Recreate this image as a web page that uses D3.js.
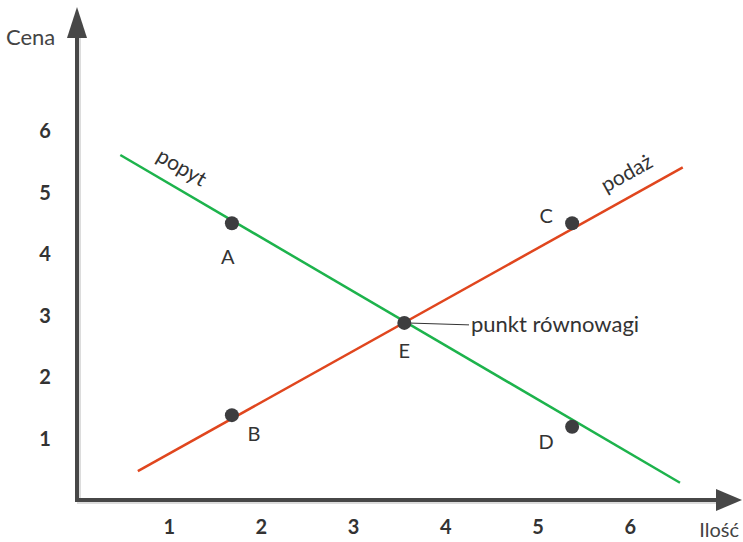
<!DOCTYPE html>
<html>
<head>
<meta charset="utf-8">
<script src="https://cdn.jsdelivr.net/npm/d3@7"></script>
<style>
  body { margin: 0; background: #fff; }
  svg { font-family: Lato, "Open Sans", sans-serif; }
</style>
</head>
<body>
<svg id="chart"></svg>
<script>
// ticks on both axes
var xTicks = [1, 2, 3, 4, 5, 6];
var yTicks = [1, 2, 3, 4, 5, 6];

// demand (popyt) and supply (podaż) lines, [quantity, price]
var demand = [[0.47, 5.61], [6.54, 0.28]];
var supply = [[0.66, 0.47], [6.57, 5.41]];

// marked points
var pointNames = ["A", "B", "C", "D", "E"];
var pointX = [1.68, 1.68, 5.37, 5.37, 3.55];
var pointY = [4.50, 1.38, 4.50, 1.19, 2.88];

var width = 743, height = 542;

var svg = d3.select("#chart")
    .attr("width", width)
    .attr("height", height);

var x = d3.scaleLinear().domain([0, 1]).range([77, 169.2]);
var y = d3.scaleLinear().domain([0, 1]).range([500, 438.5]);

var axisColor = "#474747";

// shadow of axes
svg.append("path")
    .attr("d", "M" + (x(0) + 2) + "," + 38 + " V" + (y(0) + 2) + " H" + 717)
    .attr("fill", "none")
    .attr("stroke", "#dcdcdc")
    .attr("stroke-width", 4);

// axes
svg.append("path")
    .attr("d", "M" + x(0) + "," + 36 + " V" + y(0) + " H" + 719)
    .attr("fill", "none")
    .attr("stroke", axisColor)
    .attr("stroke-width", 4);

// arrowheads
svg.append("path")
    .attr("d", "M" + x(0) + ",7 L" + (x(0) + 10) + ",38 L" + (x(0) - 10) + ",38 Z")
    .attr("fill", axisColor);
svg.append("path")
    .attr("d", "M742," + y(0) + " L716," + (y(0) - 11) + " L716," + (y(0) + 11) + " Z")
    .attr("fill", axisColor);

// tick labels
svg.append("g")
    .selectAll("text")
    .data(xTicks)
    .enter()
    .append("text")
    .attr("x", d => x(d))
    .attr("y", 534)
    .attr("text-anchor", "middle")
    .attr("font-size", 20)
    .attr("font-weight", "bold")
    .attr("fill", "#333")
    .text(d => d);

svg.append("g")
    .selectAll("text")
    .data(yTicks)
    .enter()
    .append("text")
    .attr("x", 45)
    .attr("y", d => y(d) + 7)
    .attr("text-anchor", "middle")
    .attr("font-size", 20)
    .attr("font-weight", "bold")
    .attr("fill", "#333")
    .text(d => d);

// axis titles
svg.append("text")
    .attr("x", 6).attr("y", 45)
    .attr("font-size", 22)
    .attr("fill", "#444")
    .text("Cena");
svg.append("text")
    .attr("x", 739).attr("y", 537)
    .attr("text-anchor", "end")
    .attr("font-size", 20)
    .attr("fill", "#444")
    .text("Ilość");

var line = d3.line().x(d => x(d[0])).y(d => y(d[1]));

svg.append("path")
    .attr("d", line(demand))
    .attr("fill", "none")
    .attr("stroke", "#1db34c")
    .attr("stroke-width", 2.5);

svg.append("path")
    .attr("d", line(supply))
    .attr("fill", "none")
    .attr("stroke", "#e0461e")
    .attr("stroke-width", 2.5);

// line names, rotated along the lines
var angle = (a) => Math.atan2(y(a[1][1]) - y(a[0][1]), x(a[1][0]) - x(a[0][0])) * 180 / Math.PI;

svg.append("text")
    .attr("transform", "translate(155,160) rotate(" + angle(demand) + ")")
    .attr("font-size", 21)
    .attr("fill", "#333")
    .text("popyt");

svg.append("text")
    .attr("transform", "translate(606,193) rotate(" + angle(supply) + ")")
    .attr("font-size", 21)
    .attr("fill", "#333")
    .text("podaż");

// leader to equilibrium label
svg.append("line")
    .attr("x1", x(pointX[4])).attr("y1", y(pointY[4]))
    .attr("x2", 469).attr("y2", y(pointY[4]) + 2)
    .attr("stroke", "#333")
    .attr("stroke-width", 1);

svg.append("text")
    .attr("x", 471).attr("y", y(pointY[4]) + 9)
    .attr("font-size", 22)
    .attr("fill", "#333")
    .text("punkt równowagi");

// points
var pts = pointNames.map((n, i) => ({name: n, x: pointX[i], y: pointY[i]}));

svg.append("g")
    .selectAll("circle")
    .data(pts)
    .enter()
    .append("circle")
    .attr("cx", d => x(d.x))
    .attr("cy", d => y(d.y))
    .attr("r", 7)
    .attr("fill", "#3d3d3f");

// point letters, offsets relative to the dot
var labelOffset = {A: [-4, 41], B: [22, 26], C: [-26, 0], D: [-26, 22], E: [0, 35]};

svg.append("g")
    .selectAll("text")
    .data(pts)
    .enter()
    .append("text")
    .attr("x", d => x(d.x) + labelOffset[d.name][0])
    .attr("y", d => y(d.y) + labelOffset[d.name][1])
    .attr("text-anchor", "middle")
    .attr("font-size", 20)
    .attr("fill", "#333")
    .text(d => d.name);
</script>
</body>
</html>
